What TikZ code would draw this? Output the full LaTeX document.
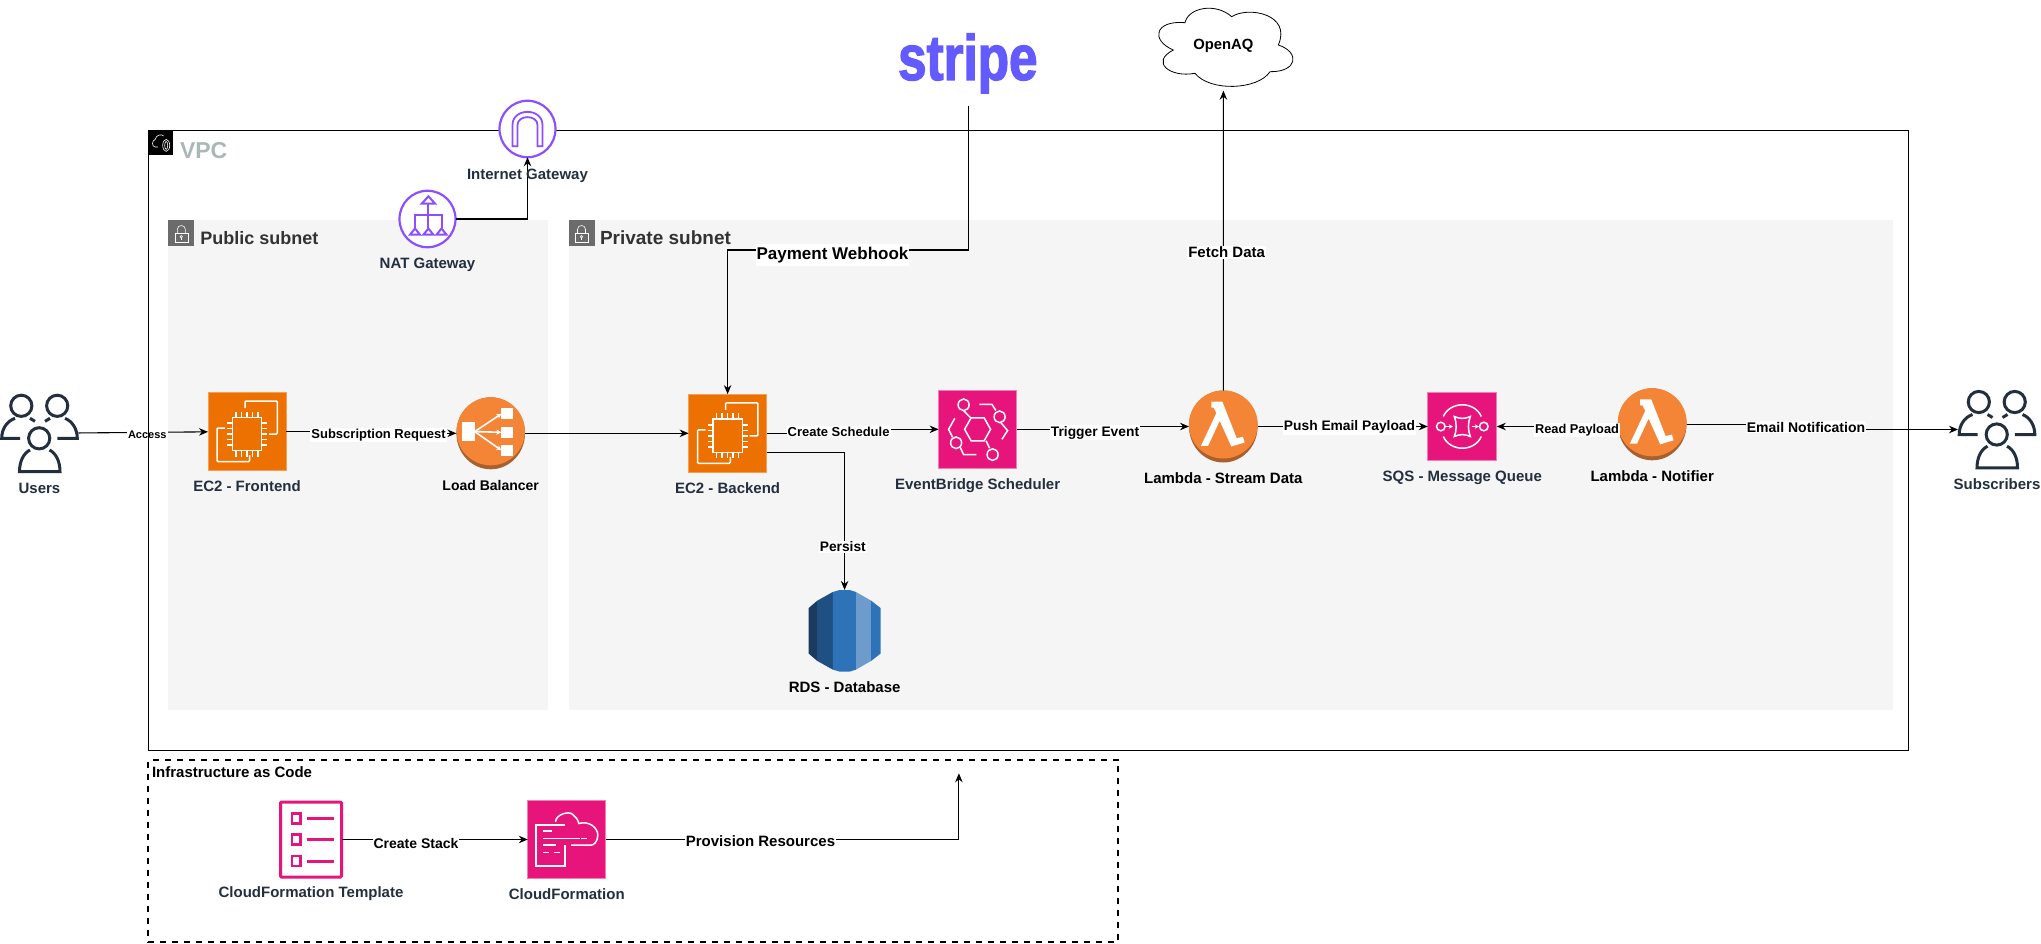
\documentclass[tikz,border=0pt]{standalone}
\usepackage{fontspec}
\setmainfont{Liberation Sans}
\newfontfamily\stripefont[FakeStretch=0.8,FakeBold=2]{Liberation Sans}
\usepackage{xcolor}
\usetikzlibrary{positioning,shapes.geometric,arrows.meta,calc}
\definecolor{ecorange}{HTML}{ED7100}
\definecolor{ecedge}{HTML}{F59E5A}
\definecolor{lborange}{HTML}{F58536}
\definecolor{lbdark}{HTML}{A9602F}
\definecolor{awspink}{HTML}{E7157B}
\definecolor{pinkedge}{HTML}{F27FB2}
\definecolor{awspurple}{HTML}{8C4FFF}
\definecolor{awsink}{HTML}{232F3E}
\definecolor{subnetbg}{HTML}{F5F5F5}
\definecolor{lockgrey}{HTML}{6B6B6B}
\definecolor{vpcgrey}{HTML}{AAB7B8}
\definecolor{stripeblue}{HTML}{635BFF}
\definecolor{rdsa}{HTML}{1A3A5F}
\definecolor{rdsb}{HTML}{205081}
\definecolor{rdsc}{HTML}{2E73B8}
\definecolor{rdsd}{HTML}{6C9BCC}
\newcommand{\fsz}[1]{\fontsize{#1}{#1}\selectfont\bfseries}
\newcommand{\ectwoglyph}[1]{%
  \begin{scope}[shift={(#1)}, draw=white, line width=1.5pt]
    \draw (-14.7,-14.2) rectangle (14.7,19.2);
    \foreach \p in {-11,-5.5,0,5.5,11} {
      \draw (\p,-14.2) -- (\p,-20); \draw (\p,19.2) -- (\p,25);
      \draw (-14.7,\p+2.5) -- (-20,\p+2.5); \draw (14.7,\p+2.5) -- (20,\p+2.5);
    }
    \draw[rounded corners=1pt] (-2,-23.5) -- (-2,-30.5) -- (30.3,-30.5) -- (30.3,2.5) -- (22,2.5);
    \draw[rounded corners=1pt] (-22,-3.5) -- (-30,-3.5) -- (-30,30) -- (2.7,30) -- (2.7,23.5);
  \end{scope}}
\newcommand{\lambdaglyph}[1]{%
  \begin{scope}[shift={(#1)}]
    \fill[lborange] (0,-2) ellipse [x radius=34.4, y radius=34];
    \fill[white] (-12,-25) -- (-1,-25) -- (13.4,11.7) -- (19.6,10.3) -- (21.4,16) -- (8,20)
      -- (-3.6,-5.7) -- (-15.2,19.3) -- (-22.3,19.3) -- (-7,-13.3) -- (-9.7,-19) -- (-12,-19) -- cycle;
  \end{scope}}
\newcommand{\lbglyph}[1]{%
  \begin{scope}[shift={(#1)}]
    \fill[lborange] (0,-2) ellipse [x radius=34.2, y radius=34];
    \fill[white] (-28.5,-11) rectangle (-16,8);
    \fill[white] (10.7,-25) rectangle (22.3,-14);
    \fill[white] (10.7,-6.7) rectangle (22.3,5);
    \fill[white] (10.7,11.7) rectangle (22.3,22.7);
    \draw[white, line width=1.6pt, -{Stealth[length=5pt,width=5pt]}] (-16,-1.7) -- (10.7,-19.5);
    \draw[white, line width=1.6pt, -{Stealth[length=5pt,width=5pt]}] (-16,-1.7) -- (10.7,-1);
    \draw[white, line width=1.6pt, -{Stealth[length=5pt,width=5pt]}] (-16,-1.7) -- (10.7,17);
  \end{scope}}
\newcommand{\peopleglyph}[1]{%
  \begin{scope}[shift={(#1)}, draw=awsink, line width=3pt]
    \draw (-18.2,-27.5) circle [radius=10.6];
    \draw (17.7,-27.5) circle [radius=10.6];
    \draw (-0.3,5) circle [radius=10.6];
    \draw (-19.5,5) -- (-37.8,5) .. controls (-37.8,-4) and (-33,-12) .. (-24.5,-15);
    \draw (-9.5,-15) -- (-4.5,-12);
    \draw (17.8,5) -- (37.8,5) .. controls (37.8,-4) and (33,-12) .. (25.5,-15);
    \draw (10.5,-15) -- (5.5,-12);
    \draw (-9.5,16.7) .. controls (-16,20) and (-20,28) .. (-20,38.4) -- (20.5,38.4)
      .. controls (20.5,28) and (16.5,20) .. (10,16.7);
  \end{scope}}
\newcommand{\lockglyph}[1]{%
  \begin{scope}[shift={(#1)}, draw=white, line width=0.6pt]
    \draw (-6.5,0) rectangle (6.5,9);
    \draw (-4,0) -- (-4,-4) .. controls (-4,-9) and (4,-9) .. (4,-4) -- (4,0);
    \draw (0,3.5) circle [radius=1.2];
    \draw (0,4.7) -- (0,7);
  \end{scope}}
\begin{document}
\begin{tikzpicture}[
        x=1pt, y=-1pt, node distance=9.7pt,
        every node/.style={outer sep=0pt},
        arr/.style={-{Stealth[length=9pt,width=7.5pt]}, line width=1.1pt, black},
        subnet/.style={fill=subnetbg, minimum height=489.7pt, inner sep=0pt},
        nettitle/.style={anchor=west, inner sep=0pt, text=black!80, font=\fsz{18}},
        lockbox/.style={fill=lockgrey, minimum size=26pt, inner sep=0pt},
        ectwo/.style={fill=ecorange, draw=ecedge, line width=1pt, minimum width=78pt, minimum height=78.4pt, inner sep=0pt},
        pinkbox/.style={fill=awspink, draw=pinkedge, line width=1pt, inner sep=0pt},
        roundicon/.style={ellipse, fill=lbdark, minimum width=68.6pt, minimum height=72pt, inner sep=0pt},
        gateway/.style={ellipse, draw=awspurple, fill=white, line width=2.2pt, minimum width=56pt, minimum height=56.5pt, inner sep=0pt},
        people/.style={minimum width=78pt, minimum height=79pt, inner sep=0pt},
        iconlabel/.style={text=awsink, inner sep=0pt, text height=11pt, text depth=3pt, font=\fsz{15}},
        blacklabel/.style={iconlabel, text=black},
        elabel/.style={fill=white, inner sep=1pt, text=black, font=\fsz{13.8}}
      ]
        \useasboundingbox (0,0) rectangle (2041,944);
        \node[subnet, minimum width=379.7pt] (pubnet) at (358.2,465) {};
        \node[subnet, minimum width=1323.9pt] (privnet) at (1230.6,465) {};
        \node[lockbox] (publock) at (181.3,233.3) {};
        \node[lockbox] (privlock) at (581.5,233.3) {};
        \lockglyph{publock} \lockglyph{privlock}
        \node[nettitle] (pubtitle) at (200.4,237.7) {Public subnet};
        \node[nettitle, font=\fsz{19}] (privtitle) at (600,237.7) {Private subnet};

        \node[people] (users) at (39.5,433.3) {};
        \node[ectwo, right=129.5pt of users, yshift=1.8pt] (ec2front) {};
        \node[roundicon, right=170.4pt of ec2front, yshift=-1.8pt] (lb) {};
        \node[ectwo, right=163.6pt of lb] (ec2back) {};
        \node[pinkbox, minimum width=78pt, minimum height=78.4pt, right=172pt of ec2back, yshift=4pt] (sched) {};
        \node[roundicon, right=172.4pt of sched, yshift=2.8pt] (lstream) {};
        \node[pinkbox, minimum width=69pt, minimum height=68.4pt, right=170.2pt of lstream] (sqs) {};
        \node[roundicon, right=121.1pt of sqs, yshift=2.2pt] (lnotify) {};
        \node[people, right=271.5pt of lnotify, yshift=-5.2pt] (subs) {};
        \node[minimum width=72pt, minimum height=81.7pt, inner sep=0pt] (rds) at (844.6,630.8) {};

        \peopleglyph{users} \peopleglyph{subs}
        \ectwoglyph{ec2front} \ectwoglyph{ec2back}
        \lbglyph{lb}
        \lambdaglyph{lstream} \lambdaglyph{lnotify}

        % eventbridge
        \begin{scope}[shift={(sched)}, draw=white, line width=1.5pt]
          \draw (-13,0) -- (-6.5,-11.5) -- (6.5,-11.5) -- (13,0) -- (6.5,11.5) -- (-6.5,11.5) -- cycle;
          \draw (-14,-24.5) ellipse [x radius=5.5, y radius=5.8];
          \draw (22,-12.5) ellipse [x radius=5.5, y radius=5.8];
          \draw (-21.5,13.5) ellipse [x radius=5.5, y radius=5.8];
          \draw (15,25.3) ellipse [x radius=5.5, y radius=5.8];
          \draw (-14,-18.7) -- (-7,-11.5);
          \draw (1.8,-25) -- (14.3,-25) -- (18.3,-18.7);
          \draw (23.2,-6.7) -- (30,1.3) -- (24.3,10);
          \draw (-22.8,-11) -- (-29,0) -- (-25,8);
          \draw (-17.4,18) -- (-14,25.3) -- (-1.3,25.3);
          \draw (8.5,11.5) -- (12,19);
        \end{scope}
        % sqs
        \begin{scope}[shift={(sqs)}, draw=white, line width=1.5pt]
          \draw (-19,-10) .. controls (-12,-25.6) and (12,-25.6) .. (19,-10);
          \draw (-19,10) .. controls (-12,25.6) and (12,25.6) .. (19,10);
          \draw (-8,-10) .. controls (-3,-7.5) and (3,-7.5) .. (8,-10)
            .. controls (5.5,-4) and (5.5,4) .. (8,10)
            .. controls (3,7.5) and (-3,7.5) .. (-8,10)
            .. controls (-5.5,4) and (-5.5,-4) .. (-8,-10) -- cycle;
          \draw (-21.5,0) circle [radius=4.3];
          \draw (21.5,0) circle [radius=4.3];
          \draw[-{Stealth[length=4pt,width=4.5pt]}] (-16.5,0) -- (-9.5,0);
          \draw[-{Stealth[length=4pt,width=4.5pt]}] (9.5,0) -- (16.5,0);
        \end{scope}
        % rds
        \begin{scope}[shift={(rds)}]
          \fill[rdsa] (-35.9,-22.8) -- (-27.4,-30.1) -- (-27.4,30.1) -- (-35.9,22.8) -- cycle;
          \fill[rdsb] (-27.4,-30.1) -- (-11.8,-38.8) -- (-11.8,38.8) -- (-27.4,30.1) -- cycle;
          \fill[rdsc] (-11.8,-38.8) -- (-5,-40.8) -- (5,-40.8) -- (11.4,-38.8) -- (11.4,38.8) -- (5,40.8) -- (-5,40.8) -- (-11.8,38.8) -- cycle;
          \fill[rdsd] (11.4,-38.8) -- (26.6,-30.1) -- (26.6,30.1) -- (11.4,38.8) -- cycle;
          \fill[rdsc] (26.6,-30.1) -- (35.9,-22.8) -- (35.9,22.8) -- (26.6,30.1) -- cycle;
        \end{scope}

        \node[iconlabel, below=of users] (lblusers) {Users};
        \node[iconlabel, below=of ec2front] (lblfront) {EC2 - Frontend};
        \node[blacklabel, font=\fsz{14}, below=of lb] (lbllb) {Load Balancer};
        \node[iconlabel, below=of ec2back] (lblback) {EC2 - Backend};
        \node[iconlabel, below=of sched] (lblsched) {EventBridge Scheduler};
        \node[blacklabel, below=of lstream] (lblstream) {Lambda - Stream Data};
        \node[iconlabel, below=of sqs] (lblsqs) {SQS - Message Queue};
        \node[blacklabel, below=of lnotify] (lblnotify) {Lambda - Notifier};
        \node[iconlabel, below=of subs] (lblsubs) {Subscribers};
        \node[blacklabel, below=of rds] (lblrds) {RDS - Database};

        \draw[arr] (users) -- (ec2front);
        \node[elabel, font=\fsz{11}] (lblaccess) at (147.3,435) {Access};

        % vpc frame
        \node[draw=black, line width=1.1pt, minimum width=1760pt, minimum height=620pt, inner sep=0pt] (vpc) at (1028.7,440.2) {};
        \node[fill=black, minimum size=25pt, inner sep=0pt] (vpcicon) at (160.9,142.7) {};
        \begin{scope}[shift={(vpcicon)}, draw=white, line width=0.6pt]
          \draw (-3,4.3) -- (-5.7,4.3) .. controls (-9.3,4) and (-9.3,-2) .. (-5.7,-3.3)
            .. controls (-5,-8) and (1,-9) .. (2.7,-6.7);
          \draw (5.3,2.7) ellipse [x radius=3.5, y radius=6];
          \draw (5.3,2.7) ellipse [x radius=1.5, y radius=4];
        \end{scope}
        \node[anchor=west, inner sep=0pt, text=vpcgrey, font=\fsz{23}] (vpctitle) at (180,151) {VPC};

        \node[gateway] (igw) at (527.5,129) {};
        \begin{scope}[shift={(igw)}, draw=awspurple, line width=1.8pt]
          \draw (-15,17.3) -- (-15,-4) .. controls (-15,-21.5) and (15,-21.5) .. (15,-4) -- (15,17.3) -- (10,17.3)
            -- (10,-4) .. controls (10,-14.5) and (-10,-14.5) .. (-10,-4) -- (-10,17.3) -- cycle;
        \end{scope}
        \node[gateway] (nat) at (427.5,219) {};
        \begin{scope}[shift={(nat)}, draw=awspurple, line width=2pt]
          \draw (0.9,-22.7) -- (7.6,-15.3) -- (-5.8,-15.3) -- cycle;
          \draw (0.9,-15.3) -- (0.9,9);
          \draw (-12.5,9) -- (-12.5,-3.7) -- (14,-3.7) -- (14,9);
          \draw (-12.5,9.5) -- (-7.5,15.7) -- (-17.5,15.7) -- cycle;
          \draw (0.9,9.5) -- (5.9,15.7) -- (-4.1,15.7) -- cycle;
          \draw (14,9.5) -- (19,15.7) -- (9,15.7) -- cycle;
        \end{scope}
        \node[iconlabel, below=10.3pt of nat] (lblnat) {NAT Gateway};
        \draw[arr] (nat.east) -| (igw.south);
        \node[iconlabel, below=11pt of igw] (lbligw) {Internet Gateway};

        \draw[black, fill=white, line width=0.8pt] (1185,22.7) .. controls (1188,8) and (1215,2) .. (1231.7,16.7)
          .. controls (1248,6) and (1292,14) .. (1278.3,45)
          .. controls (1300,52) and (1298,72) .. (1270,71.7)
          .. controls (1258,90) and (1210,92) .. (1195,73.3)
          .. controls (1170,78) and (1150,62) .. (1173.3,50)
          .. controls (1150,40) and (1155,20) .. (1185,22.7) -- cycle;
        \node[minimum width=135pt, minimum height=90pt, inner sep=0pt, font=\fsz{14.8}, text=black] (openaq) at (1223.4,45.7) {OpenAQ};
        \node[text=stripeblue, inner sep=0pt, font={\fontsize{64}{64}\selectfont\bfseries\stripefont}] (stripelogo) at (967.8,63.4) {stripe};
        \coordinate (stripeend) at (968.3,106);

        \node[draw=awspink, fill=white, line width=3pt, rounded corners=1pt, minimum width=61pt, minimum height=75pt, inner sep=0pt] (tmpl) at (311,839.5) {};
        \begin{scope}[shift={(tmpl)}, draw=awspink, line width=3pt]
          \foreach \r in {-21,0,21.7} {
            \draw[line width=2.4pt] (-14.7-4.2,\r-5) rectangle (-14.7+4.2,\r+5);
            \draw (-3.8,\r) -- (23,\r);
          }
        \end{scope}
        \node[pinkbox, minimum width=78pt, minimum height=78pt, right=186.3pt of tmpl] (cfn) {};
        \begin{scope}[shift={(cfn)}, draw=white, line width=1.5pt]
          \draw (-1.7,-14.3) -- (-30.7,-14.3) -- (-30.7,26.3) -- (-1.7,26.3) -- (-1.7,5.7);
          \draw (-11.3,-17.7) .. controls (-11,-25) and (2,-29) .. (6,-25) .. controls (9,-23) and (11,-20) .. (12,-16)
            .. controls (22,-19) and (31,-12) .. (31,-4.3) .. controls (31,2) and (27,5.7) .. (24.3,5.7) -- (4.3,5.7);
          \draw (-24,-8.3) -- (-14.7,-8.3);
          \draw (-24,-1) -- (12.7,-1);
          \draw (14.3,-1) -- (20.3,-1);
          \draw (-24,5.7) -- (-11.3,5.7);
          \draw (-24,13) -- (-18,13);
          \draw (-13.3,13) -- (-7.3,13);
        \end{scope}
        \node[iconlabel, below=of tmpl] (lbltmpl) {CloudFormation Template};
        \node[iconlabel, below=of cfn] (lblcfn) {CloudFormation};
        \node[draw=black, dash pattern=on 6pt off 6pt, line width=1.8pt, minimum width=970pt, minimum height=182.3pt, inner sep=0pt] (iac) at (633.3,851.2) {};
        \node[anchor=west, inner sep=0pt, text=black, font=\fsz{15}] (iactitle) at (152,771.7) {Infrastructure as Code};
        \coordinate (provend) at (958.9,773.3);

        \coordinate (atsub) at (378.6,435.2);
        \coordinate (atcreate) at (838.6,431.7);
        \coordinate (attrigger) at (1095,432.5);
        \coordinate (atread) at (1577,429.7);
        \coordinate (atmail) at (1806,427.3);
        \coordinate (atpay) at (832.5,255);
        \draw[arr] (ec2front.east) -| (atsub) |- (lb.west);
        \draw[arr] (lb.east) -- (ec2back.west);
        \draw[arr] (ec2back.east) -| (atcreate) |- (sched.west);
        \draw[arr] (sched.east) -| (attrigger) |- (lstream.west);
        \draw[arr] (lstream.east) -- node[elabel, pos=0.54, yshift=-0.8pt] (lblpush) {Push Email Payload} (sqs.west);
        \draw[arr] (lnotify.west) -| (atread) |- (sqs.east);
        \draw[arr] (lnotify.east) -| (atmail) |- (subs.west);
        \draw[arr] (lstream.north) -- node[elabel, font=\fsz{15}, pos=0.46, xshift=3.3pt] (lblfetch) {Fetch Data} (openaq.south);
        \draw[arr] ([yshift=-19.2pt]ec2back.east) -| node[elabel, pos=0.843, xshift=-1.8pt] (lblpersist) {Persist} (rds.north);
        \draw[arr] (stripeend) |- ([yshift=5pt]atpay) -| (ec2back.north);
        \draw[arr] (tmpl.east) -- node[elabel, font=\fsz{14}, pos=0.4, yshift=-4pt] (lblstack) {Create Stack} (cfn.west);
        \draw[arr] (cfn.east) -| (provend);
        \node[elabel, font=\fsz{13}] (lblsub) at (atsub) {Subscription Request};
        \node[elabel, font=\fsz{13}] (lblcreate) at (atcreate) {Create Schedule};
        \node[elabel] (lbltrigger) at (attrigger) {Trigger Event};
        \node[elabel, font=\fsz{12.8}] (lblread) at (atread) {Read Payload};
        \node[elabel, font=\fsz{14}] (lblmail) at (atmail) {Email Notification};
        \node[elabel, font=\fsz{17}, inner ysep=3pt] (lblpay) at (atpay) {Payment Webhook};
        \node[elabel, font=\fsz{15}] (lblprov) at (760.5,841.3) {Provision Resources};
      \end{tikzpicture}
\end{document}
